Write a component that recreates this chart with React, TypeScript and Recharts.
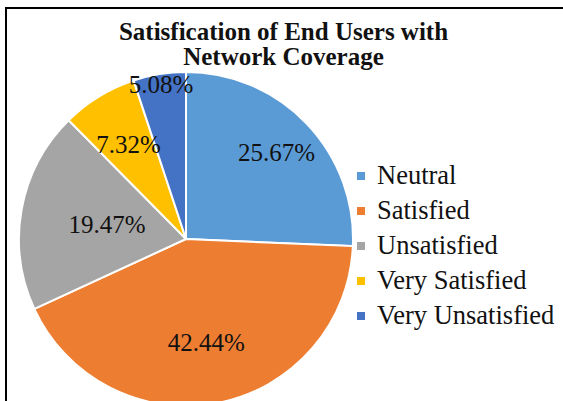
import React from 'react';
import { PieChart, Pie, Cell, Legend } from 'recharts';

// data
const categories = ['Neutral', 'Satisfied', 'Unsatisfied', 'Very Satisfied', 'Very Unsatisfied'];
const shares = [25.67, 42.44, 19.47, 7.32, 5.08];
const sliceColors = ['#5B9BD5', '#ED7D31', '#A5A5A5', '#FFC000', '#4472C4'];
const titleLines = ['Satisfication of End Users with', 'Network Coverage'];

const pieData = categories.map((name, i) => ({ name, value: shares[i] }));

const RAD = Math.PI / 180;
// Excel "best fit" places labels at different distances from the centre
const labelRadius = [0.75, 0.63, 0.48, 0.66, 0.94];

const renderLabel = (props: any) => {
  const { cx, cy, midAngle, outerRadius, index, value } = props;
  const r = outerRadius * labelRadius[index];
  const x = cx + r * Math.cos(-midAngle * RAD);
  const y = cy + r * Math.sin(-midAngle * RAD);
  return (
    <text
      x={x}
      y={y}
      fill="#111"
      textAnchor="middle"
      dominantBaseline="central"
      style={{ fontFamily: '"Liberation Serif", serif', fontSize: 25 }}
    >
      {value.toFixed(2)}%
    </text>
  );
};

const renderLegend = () => (
  <div style={{ fontFamily: '"Liberation Serif", serif', fontSize: 26.5, color: '#111' }}>
    {categories.map((name, i) => (
      <div key={name} style={{ display: 'flex', alignItems: 'center', height: 35 }}>
        <span
          style={{ width: 8, height: 8, background: sliceColors[i], display: 'inline-block', marginRight: 12 }}
        />
        <span>{name}</span>
      </div>
    ))}
  </div>
);

export default function App() {
  return (
    <div
      style={{
        position: 'absolute',
        left: 0,
        top: 0,
        width: 563,
        height: 401,
        overflow: 'hidden',
        background: '#fff',
      }}
    >
      <div
        style={{
          position: 'absolute',
          left: 5,
          top: 7,
          width: 700,
          height: 600,
          border: '2px solid #000',
        }}
      />
      <PieChart width={563} height={401} style={{ position: 'absolute', left: 0, top: 0 }}>
        <Pie
          data={pieData}
          dataKey="value"
          nameKey="name"
          cx={181}
          cy={234}
          outerRadius={167}
          startAngle={90}
          endAngle={-270}
          stroke="#fff"
          strokeWidth={2}
          label={renderLabel}
          labelLine={false}
          isAnimationActive={false}
        >
          {pieData.map((d, i) => (
            <Cell key={d.name} fill={sliceColors[i]} />
          ))}
        </Pie>
        <Legend
          content={renderLegend}
          layout="vertical"
          wrapperStyle={{ position: 'absolute', left: 357, top: 158, width: 206 }}
        />
      </PieChart>
      {titleLines.map((line, i) => (
        <div
          key={line}
          style={{
            position: 'absolute',
            left: 0,
            width: 563,
            top: 19 + i * 25,
            textAlign: 'center',
            paddingLeft: 2,
            fontFamily: '"Liberation Serif", serif',
            fontWeight: 'bold',
            fontSize: 25,
            lineHeight: '25px',
            color: '#111',
          }}
        >
          {line}
        </div>
      ))}
    </div>
  );
}
